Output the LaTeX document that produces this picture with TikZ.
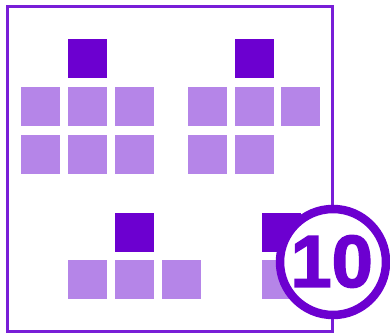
\documentclass[tikz,border=0pt]{standalone}
\usepackage{fontspec}
\newfontfamily\numfont[FakeBold=2]{Liberation Sans Bold}
\definecolor{darkp}{RGB}{108,0,208}
\definecolor{lightp}{RGB}{181,133,232}
\definecolor{framep}{RGB}{120,30,215}
\begin{document}
\begin{tikzpicture}[x=1pt,y=-1pt,
  sq/.style={rectangle,minimum size=39pt,inner sep=0pt,draw=none},
  dk/.style={sq,fill=darkp},
  lt/.style={sq,fill=lightp}]
\useasboundingbox (0,0) rectangle (390,334);
\node[draw=framep,line width=3pt,minimum width=325.7pt,minimum height=324.7pt,inner sep=0pt] (frame) at (169.85,169.35) {};
% group 1
\node[dk] (a0) at (87,59) {};
\node[lt] (a1) at (40,106.5) {};
\node[lt] (a2) at (87,106.5) {};
\node[lt] (a3) at (134,106.5) {};
\node[lt] (a4) at (40,154.5) {};
\node[lt] (a5) at (87,154.5) {};
\node[lt] (a6) at (134,154.5) {};
% group 2
\node[dk] (b0) at (254.5,59) {};
\node[lt] (b1) at (207.5,106.5) {};
\node[lt] (b2) at (254.5,106.5) {};
\node[lt] (b3) at (300.5,106.5) {};
\node[lt] (b4) at (207.5,154.5) {};
\node[lt] (b5) at (254.5,154.5) {};
% group 3
\node[dk] (c0) at (134,232.5) {};
\node[lt] (c1) at (87,279) {};
\node[lt] (c2) at (134,279) {};
\node[lt] (c3) at (181,279) {};
% group 4
\node[dk] (d0) at (281.5,232.5) {};
\node[lt] (d1) at (281.5,279) {};
% badge
\node[circle,draw=darkp,fill=white,line width=8.5pt,minimum size=106pt,inner sep=0pt] (badge) at (333,262) {};
\node[text=darkp,inner sep=0pt] (num) at (331.7,261.5) {\numfont\fontsize{74}{74}\selectfont 10};
\end{tikzpicture}
\end{document}
